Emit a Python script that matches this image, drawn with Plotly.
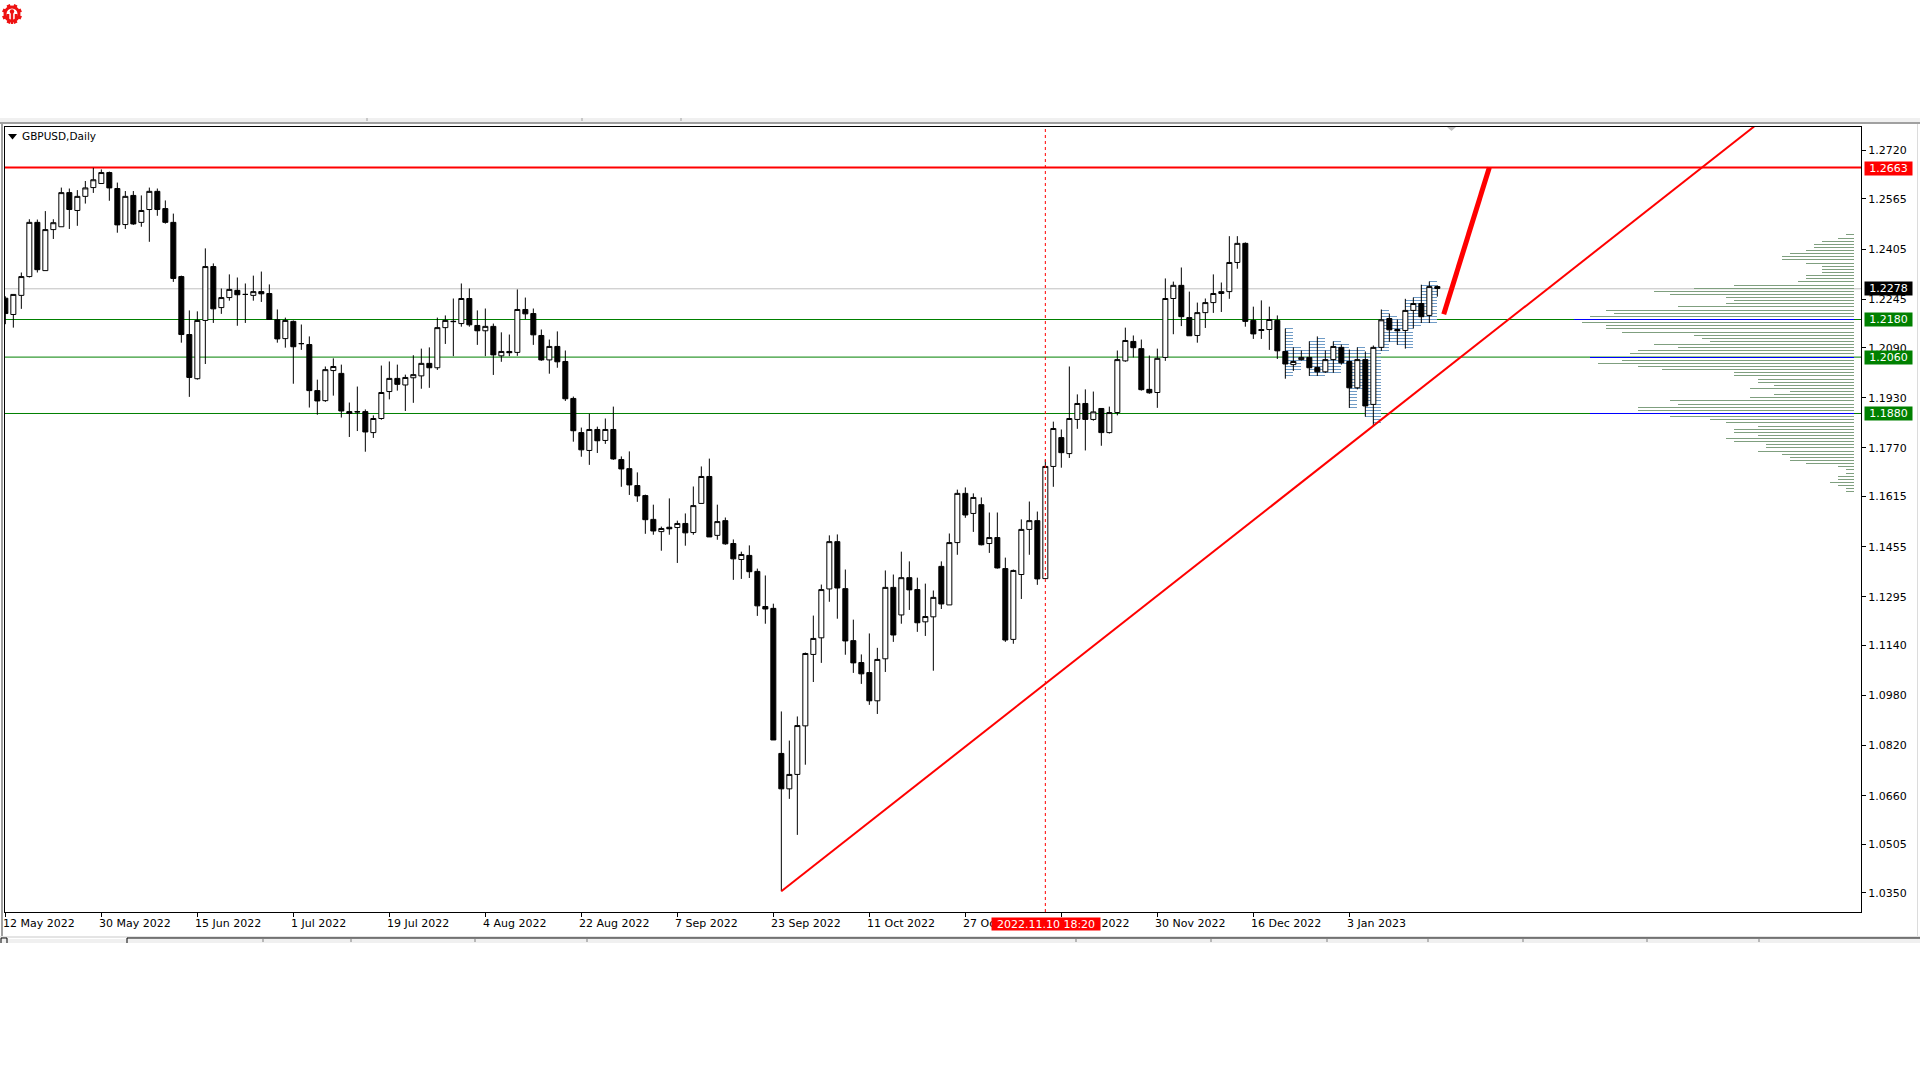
import math
import plotly.graph_objects as go

# Daily GBPUSD, prices in 1/10000 of a dollar, one value per bar
open_pts = [
 12248,12196,12257,12317,12490,12336,12467,12476,12585,12528,12573,12601,12614,12649,12598,12483,12576,12490,12531,12589,12534,12490,12317,12132,11991,12177,12349,12218,12250,12273,12260,12257,12269,12263,12179,12119,12174,12103,12100,11953,11921,12017,12008,11886,11886,11886,11819,11864,11950,11992,
 11971,11994,12000,12040,12026,12154,12173,12167,12247,12161,12144,12158,12064,12078,12075,12212,12199,12129,12051,12094,12046,11928,11819,11762,11829,11794,11829,11733,11704,11650,11618,11542,11503,11517,11516,11529,11500,11593,11679,11491,11538,11465,11414,11427,11376,11264,11258,10795,10682,10728,
 10883,11111,11164,11320,11471,11321,11155,11085,11053,10963,11097,11325,11237,11356,11318,11215,11231,11392,11269,11468,11625,11561,11589,11465,11484,11385,11159,11366,11510,11538,11353,11711,11803,11752,11861,11912,11861,11896,11819,11883,12048,12110,12087,11957,11947,12059,12247,12289,12186,12129,
 12202,12234,12263,12269,12362,12423,12177,12148,12148,12177,12078,12036,12052,12059,12027,12013,12052,12091,12046,11962,12052,11909,12091,12183,12148,12145,12209,12231,12193,12285]
close_pts = [
 12199,12260,12317,12490,12339,12467,12489,12585,12531,12573,12600,12626,12649,12600,12482,12573,12485,12528,12589,12531,12490,12311,12132,11995,12177,12349,12214,12250,12276,12259,12260,12269,12262,12180,12118,12177,12093,12103,11953,11920,12020,12030,11888,11880,11885,11821,11864,11947,11992,11973,
 11995,12004,12040,12026,12154,12177,12174,12247,12163,12144,12158,12067,12078,12074,12212,12198,12131,12051,12094,12045,11927,11825,11764,11829,11793,11829,11735,11703,11652,11617,11541,11505,11513,11512,11529,11499,11586,11679,11486,11535,11464,11416,11430,11375,11266,11256,10838,10682,10728,10884,
 11114,11162,11318,11471,11323,11154,11084,11049,10963,11095,11325,11173,11356,11317,11212,11232,11293,11272,11468,11625,11556,11612,11461,11484,11387,11157,11379,11510,11538,11352,11711,11832,11755,11864,11912,11861,11885,11819,11883,12052,12113,12090,11956,11946,12056,12247,12289,12189,12128,12202,
 12234,12263,12269,12362,12423,12174,12134,12145,12180,12080,12038,12046,12059,12026,12013,12052,12094,12042,11962,12052,11904,12091,12179,12147,12144,12209,12231,12189,12285,12279]
high_pts = [
 12254,12260,12330,12500,12499,12526,12500,12601,12598,12593,12622,12664,12659,12652,12617,12590,12590,12576,12601,12598,12560,12518,12320,12209,12206,12407,12359,12279,12324,12314,12295,12320,12333,12292,12212,12186,12177,12164,12126,11988,12030,12056,12036,11915,11966,11893,11874,12033,12046,12036,
 12004,12066,12087,12091,12186,12193,12247,12295,12279,12209,12215,12167,12139,12132,12276,12250,12215,12148,12116,12142,12081,11934,11835,11879,11838,11864,11902,11743,11759,11692,11621,11589,11519,11609,11538,11561,11647,11711,11736,11589,11548,11478,11439,11459,11385,11363,11273,10929,10836,10913,
 11117,11235,11334,11491,11494,11382,11222,11111,11178,11132,11379,11366,11439,11408,11356,11337,11315,11408,11497,11637,11644,11625,11612,11564,11564,11420,11382,11542,11599,11567,11733,11854,11829,12030,11941,11957,11950,11896,11902,12081,12154,12129,12116,12065,12087,12311,12301,12346,12269,12234,
 12247,12324,12298,12446,12446,12426,12221,12241,12221,12193,12151,12091,12081,12110,12126,12081,12110,12100,12084,12091,12078,12097,12212,12199,12180,12246,12250,12291,12301,12289]
low_pts = [
 12165,12154,12214,12314,12330,12336,12437,12476,12469,12479,12550,12584,12614,12559,12457,12469,12482,12476,12428,12511,12486,12300,12106,11933,11988,12038,12169,12198,12240,12160,12169,12240,12236,12180,12106,12090,11975,12083,11899,11876,11917,11937,11867,11805,11824,11758,11802,11860,11925,11953,
 11888,11914,11959,11962,12019,12102,12063,12157,12157,12099,12063,12003,12045,12063,12064,12181,12099,12048,12007,12026,11920,11790,11742,11716,11754,11783,11732,11646,11620,11598,11496,11493,11442,11493,11403,11458,11493,11593,11486,11477,11461,11349,11352,11355,11234,11209,10838,10355,10650,10535,
 10759,11023,11084,11279,11225,11110,11052,11017,10950,10921,11055,11151,11209,11253,11183,11170,11059,11256,11269,11429,11547,11502,11459,11435,11385,11151,11145,11288,11429,11333,11353,11646,11707,11738,11831,11762,11857,11777,11816,11874,12045,12059,11953,11943,11898,12048,12133,12159,12128,12106,
 12153,12201,12204,12246,12342,12157,12118,12118,12083,12054,11991,12016,12049,12000,12000,12010,12010,12036,11898,11957,11870,11841,12080,12109,12099,12087,12151,12169,12169,12253]
assert len(open_pts) == len(close_pts) == len(high_pts) == len(low_pts) == 180

# Price-level profile at the right edge: number of bars at each 0.0010 level
profile_levels = [
 1.2450,1.2440,1.2430,1.2420,1.2410,1.2400,1.2390,1.2380,1.2370,1.2360,1.2350,1.2340,1.2330,1.2320,1.2310,1.2300,1.2290,
 1.2280,1.2270,1.2260,1.2250,1.2240,1.2230,1.2220,1.2210,1.2200,1.2190,1.2180,1.2170,1.2160,1.2150,1.2140,1.2130,1.2120,
 1.2110,1.2100,1.2090,1.2080,1.2070,1.2060,1.2050,1.2040,1.2030,1.2020,1.2010,1.2000,1.1990,1.1980,1.1970,1.1960,1.1950,
 1.1940,1.1930,1.1920,1.1910,1.1900,1.1890,1.1880,1.1870,1.1860,1.1850,1.1840,1.1830,1.1820,1.1810,1.1800,1.1790,1.1780,
 1.1770,1.1760,1.1750,1.1740,1.1730,1.1720,1.1710,1.1700,1.1690,1.1680,1.1670,1.1660,1.1650,1.1640,1.1630]
profile_counts = [
 1,2,4,5,5,6,8,9,9,6,4,4,4,6,6,7,15,20,25,23,16,15,16,22,31,30,33,35,34,31,31,29,20,19,18,25,22,27,28,33,29,32,27,24,15,15,
 12,12,10,13,8,10,13,23,22,27,27,33,23,18,16,12,15,15,12,16,15,11,11,12,9,8,8,6,2,1,1,2,2,3,2,1,1]
profile_peaks = [1.2180, 1.2060, 1.1880]

price_ticks = [1.2720,1.2565,1.2405,1.2245,1.2090,1.1930,1.1770,1.1615,1.1455,1.1295,1.1140,1.0980,1.0820,1.0660,1.0505,1.0350]
date_bars = [0,12,24,36,48,60,72,84,96,108,120,132,144,156,168]
date_labels = ["12 May 2022","30 May 2022","15 Jun 2022","1 Jul 2022","19 Jul 2022","4 Aug 2022","22 Aug 2022","7 Sep 2022",
               "23 Sep 2022","11 Oct 2022","27 Oct 2022","14 Nov 2022","30 Nov 2022","16 Dec 2022","3 Jan 2023"]
level_lines = [1.2180, 1.2060, 1.1880]
resistance = 1.2663
resistance_line = 1.2665
last_price = 1.2278
trend_x = [97, 218.6]
trend_y = [1.0355, 1.2796]
arrow_x = [179.8, 185.5]
arrow_y = [1.2197, 1.2665]
cursor_bar = 130
comb_first_bar = 160
comb_last_bar = 178
profile_right = 231.08

L, R, T, B = 5, 59, 127, 168
PW, PH = 1920 - L - R, 1080 - T - B
FONT = "DejaVu Sans"
def px(x): return (x - L) / PW
def py(y): return (1080 - B - y) / PH

bars = list(range(180))
fig = go.Figure()

# Comb of dashes along the last bars, from each bar to the next
cx, cy = [], []
for k in range(comb_first_bar, comb_last_bar + 1):
    for lv in range(math.ceil(low_pts[k] / 10), math.floor(high_pts[k] / 10) + 1):
        cx.append(k)
        cy.append(lv / 1000)
fig.add_trace(go.Bar(y=cy, x=[1] * len(cx), base=cx, orientation="h", width=0.000002,
                     marker=dict(color="#6f9bc6", line=dict(width=0)), hoverinfo="skip"))

# Right-edge profile
fig.add_trace(go.Bar(
    y=profile_levels, x=profile_counts,
    base=[profile_right - c for c in profile_counts], orientation="h", width=0.000002,
    marker=dict(color=["#0000ff" if lv in profile_peaks else "#7f9f7f" for lv in profile_levels], line=dict(width=0)),
    hoverinfo="skip"))

fig.add_trace(go.Candlestick(
    x=bars,
    open=[v / 10000 for v in open_pts], high=[v / 10000 for v in high_pts],
    low=[v / 10000 for v in low_pts], close=[v / 10000 for v in close_pts],
    whiskerwidth=0,
    increasing=dict(line=dict(color="#000000", width=1), fillcolor="#ffffff"),
    decreasing=dict(line=dict(color="#000000", width=1), fillcolor="#000000"),
    hoverinfo="skip"))

fig.add_trace(go.Scatter(x=trend_x, y=trend_y, mode="lines", line=dict(color="#ff0000", width=2), hoverinfo="skip"))
fig.add_trace(go.Scatter(x=arrow_x, y=arrow_y, mode="lines", line=dict(color="#ff0000", width=5), hoverinfo="skip"))

shapes = []
def hline(price, color, width):
    shapes.append(dict(type="line", xref="paper", x0=0, x1=1, yref="y", y0=price, y1=price,
                       line=dict(color=color, width=width), layer="below"))
hline(last_price, "#c0c0c0", 1)
for lv in level_lines:
    hline(lv, "#008000", 1)
hline(resistance_line, "#ff0000", 2)
shapes.append(dict(type="line", xref="x", x0=cursor_bar, x1=cursor_bar, yref="paper", y0=0, y1=1,
                   line=dict(color="#ff0000", width=1, dash="3px,3px"), layer="above"))

def rect(x0, y0, x1, y1, color):
    shapes.append(dict(type="rect", xref="paper", yref="paper", x0=px(x0), x1=px(x1), y0=py(y0), y1=py(y1),
                       fillcolor=color, line=dict(width=0), layer="above"))
def pline(x0, y0, x1, y1, color, width=1):
    shapes.append(dict(type="line", xref="paper", yref="paper", x0=px(x0), x1=px(x1), y0=py(y0), y1=py(y1),
                       line=dict(color=color, width=width), layer="above"))
def tri(points, color):
    d = "M " + " L ".join(f"{px(x)},{py(y)}" for x, y in points) + " Z"
    shapes.append(dict(type="path", xref="paper", yref="paper", path=d, fillcolor=color, line=dict(width=0), layer="above"))

# Window furniture
rect(0, 118, 1920, 122, "#f0f0f0")
rect(0, 122, 1920, 124, "#a0a0a0")
rect(1, 124, 3, 936, "#a0a0a0")
rect(1917, 124, 1918, 936, "#dcdcdc")
rect(0, 936, 1920, 938, "#e4e4e4")
rect(0, 939, 1920, 943, "#f0f0f0")
pline(127, 938, 1920, 938, "#000000")
pline(1, 938, 7, 938, "#000000")
pline(1, 938, 1, 943, "#000000")
pline(7, 938, 7, 943, "#000000")
pline(127, 938, 127, 943, "#000000")
for sx in [263, 351, 475, 587, 1076, 1211, 1327, 1428, 1523, 1647, 1759]:
    pline(sx, 939, sx, 942, "#808080")
for sx in [367, 582, 681]:
    pline(sx, 118, sx, 121, "#a0a0a0")
tri([(1447, 127), (1456, 127), (1451.5, 131)], "#c0c0c0")
tri([(8, 134), (17, 134), (12.5, 139.5)], "#000000")

# Logo
def disc(cx_, cy_, r, color):
    shapes.append(dict(type="circle", xref="paper", yref="paper", x0=px(cx_ - r), x1=px(cx_ + r),
                       y0=py(cy_ + r), y1=py(cy_ - r), fillcolor=color, line=dict(width=0), layer="above"))
for a in range(8):
    t = math.pi / 8 + a * math.pi / 4
    pline(12 + 6 * math.cos(t), 14 + 6 * math.sin(t), 12 + 10 * math.cos(t), 14 + 10 * math.sin(t), "#ee1111", 3.5)
disc(12, 14, 8.5, "#ee1111")
disc(12, 14, 5.5, "#ffffff")
disc(12, 11.5, 2.2, "#ee1111")
rect(10.8, 12, 13.2, 24, "#ee1111")
rect(6.5, 14, 9.3, 20, "#ee1111")
rect(14.7, 14, 17.5, 20, "#ee1111")

ann = []
ann.append(dict(xref="paper", yref="paper", x=px(21), y=py(136.2), xanchor="left", yanchor="middle", text="GBPUSD,Daily",
                showarrow=False, font=dict(family=FONT, size=10.5, color="#000000"), borderpad=0))
for b, lab in zip(date_bars, date_labels):
    ann.append(dict(xref="x", yref="paper", x=b, y=py(923.5), xanchor="left", yanchor="middle", text=lab,
                    showarrow=False, font=dict(family=FONT, size=11, color="#000000"), borderpad=0, xshift=-3))
ann.append(dict(xref="paper", yref="paper", x=px(991), y=py(923.5), xanchor="left", yanchor="middle",
                text="2022.11.10 18:20", showarrow=False, width=108, height=12, bgcolor="#ff0000", borderpad=0,
                font=dict(family=FONT, size=11, color="#ffffff")))
def tag(price, text, color):
    ann.append(dict(xref="paper", yref="y", x=px(1864), y=price, xanchor="left", yanchor="middle", text=text,
                    showarrow=False, width=47, height=13, bgcolor=color, borderpad=0,
                    font=dict(family=FONT, size=11, color="#ffffff")))
tag(resistance, "1.2663", "#ff0000")
tag(last_price, "1.2278", "#000000")
for lv, txt in zip(level_lines, ["1.2180", "1.2060", "1.1880"]):
    tag(lv, txt, "#008000")

fig.update_layout(
    width=1920, height=1080, autosize=False,
    margin=dict(l=L, r=R, t=T, b=B, pad=0),
    paper_bgcolor="#ffffff", plot_bgcolor="#ffffff",
    showlegend=False, barmode="overlay", boxgap=0.375, boxgroupgap=0, bargap=0,
    shapes=shapes, annotations=ann, hovermode=False,
    xaxis=dict(range=[(L - 5.33) / 8, (L - 5.33 + PW) / 8], showgrid=False, zeroline=False, rangeslider=dict(visible=False),
               tickmode="array", tickvals=date_bars, ticks="outside", ticklen=4, tickwidth=1, tickcolor="#000000",
               showticklabels=False, showline=True, linecolor="#000000", linewidth=1, mirror=True),
    yaxis=dict(range=[1.02889, 1.27944], side="right", showgrid=False, zeroline=False,
               tickmode="array", tickvals=price_ticks, ticktext=[f"{v:.4f}" for v in price_ticks],
               ticks="outside", ticklen=4, tickwidth=1, tickcolor="#000000",
               tickfont=dict(family=FONT, size=11, color="#000000"),
               showline=True, linecolor="#000000", linewidth=1, mirror=True),
)
fig.write_html("out.html", config=dict(displayModeBar=False, responsive=False),
               post_script="document.body.style.margin='0';document.body.style.background='#ffffff';")
